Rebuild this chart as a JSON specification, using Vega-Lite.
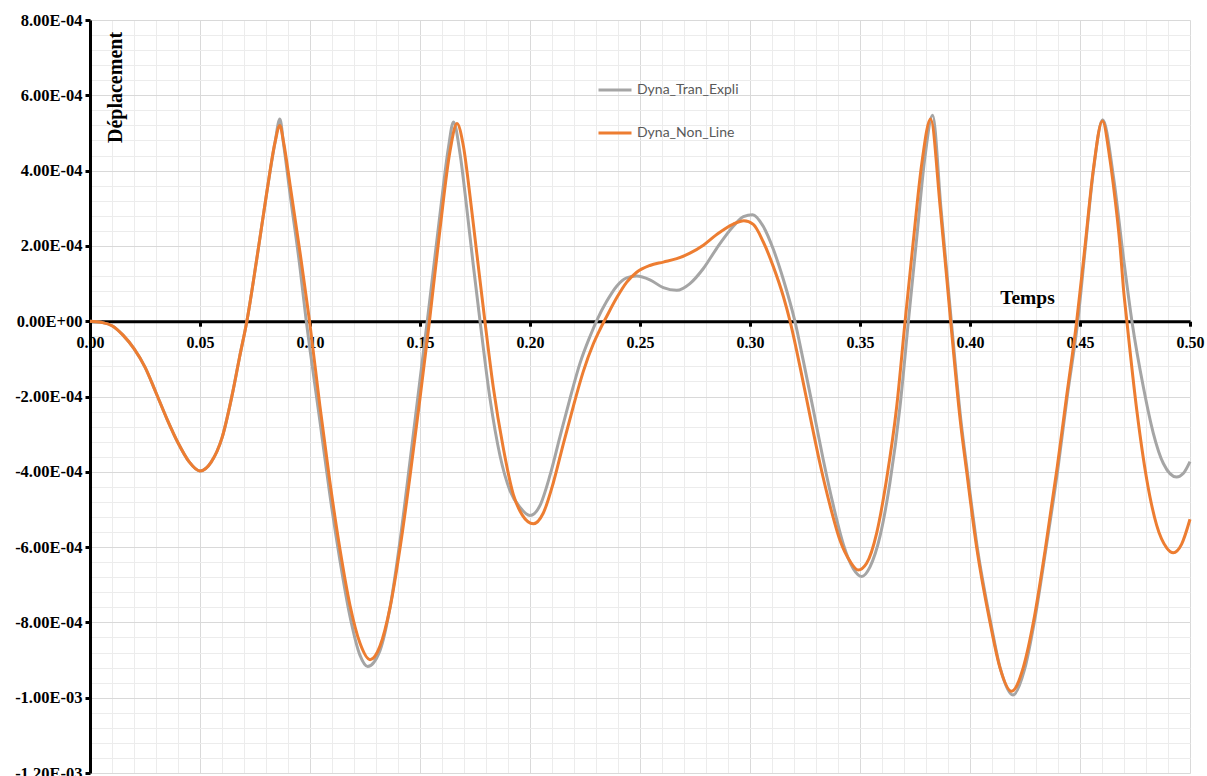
{
"$schema": "https://vega.github.io/schema/vega-lite/v6.json",
"width": 1100, "height": 753,
"autosize": {"type": "none"},
"padding": {"left": 90, "top": 20, "right": 17, "bottom": 3},
"background": "white",
"config": {"view": {"stroke": null}},
"datasets": {
"T": [
{"t":0,"v":0},{"t":0.005,"v":-0.03e-4},{"t":0.01,"v":-0.12e-4},{"t":0.015,"v":-0.37e-4},{"t":0.02,"v":-0.73e-4},{"t":0.025,"v":-1.22e-4},{"t":0.03,"v":-1.9e-4},{"t":0.035,"v":-2.6e-4},{"t":0.04,"v":-3.23e-4},{"t":0.045,"v":-3.73e-4},{"t":0.05,"v":-3.98e-4},{"t":0.055,"v":-3.75e-4},{"t":0.06,"v":-3.1e-4},{"t":0.065,"v":-1.85e-4},{"t":0.068,"v":-0.95e-4},{"t":0.0713,"v":0},{"t":0.0758,"v":1.65e-4},{"t":0.0803,"v":3.4e-4},{"t":0.0841,"v":4.75e-4},
{"t":0.0863,"v":5.37e-4},{"t":0.088,"v":4.7e-4},{"t":0.091,"v":3.35e-4},{"t":0.0955,"v":1.4e-4},{"t":0.0983,"v":0},{"t":0.1,"v":-0.75e-4},{"t":0.1045,"v":-2.65e-4},{"t":0.109,"v":-4.6e-4},{"t":0.1136,"v":-6.35e-4},{"t":0.1182,"v":-7.85e-4},{"t":0.1227,"v":-8.87e-4},{"t":0.1262,"v":-9.17e-4},{"t":0.1318,"v":-8.75e-4},{"t":0.1364,"v":-7.6e-4},{"t":0.141,"v":-5.8e-4},{"t":0.1455,"v":-3.7e-4},{"t":0.15,"v":-1.55e-4},{"t":0.1533,"v":0},{"t":0.1591,"v":2.85e-4},{"t":0.1629,"v":4.6e-4},{"t":0.1652,"v":5.29e-4},{"t":0.1682,"v":4.45e-4},{"t":0.1712,"v":3.03e-4},{"t":0.1742,"v":1.5e-4},{"t":0.1773,"v":0},{"t":0.1818,"v":-2.05e-4},{"t":0.1864,"v":-3.58e-4},{"t":0.1909,"v":-4.5e-4},{"t":0.1955,"v":-4.95e-4},{"t":0.2,"v":-5.16e-4},{"t":0.2045,"v":-4.9e-4},{"t":0.2091,"v":-4.09e-4},{"t":0.2136,"v":-3.07e-4},{"t":0.2182,"v":-2.05e-4},{"t":0.2227,"v":-1.12e-4},{"t":0.2273,"v":-0.4e-4},{"t":0.2306,"v":0.05e-4},{"t":0.2348,"v":0.52e-4},{"t":0.2394,"v":0.93e-4},{"t":0.2439,"v":1.15e-4},{"t":0.2485,"v":1.2e-4},{"t":0.2545,"v":1.1e-4},{"t":0.2606,"v":0.89e-4},{"t":0.2667,"v":0.82e-4},{"t":0.2727,"v":1.0e-4},{"t":0.2788,"v":1.4e-4},{"t":0.2848,"v":1.93e-4},{"t":0.2924,"v":2.52e-4},{"t":0.297,"v":2.78e-4},{"t":0.3012,"v":2.83e-4},{"t":0.306,"v":2.52e-4},{"t":0.3106,"v":1.91e-4},{"t":0.3152,"v":1.1e-4},{"t":0.3204,"v":0},{"t":0.3242,"v":-1.04e-4},{"t":0.3288,"v":-2.36e-4},{"t":0.3333,"v":-3.68e-4},{"t":0.3379,"v":-4.9e-4},{"t":0.3424,"v":-5.92e-4},{"t":0.347,"v":-6.58e-4},{"t":0.3508,"v":-6.78e-4},{"t":0.3545,"v":-6.53e-4},{"t":0.3591,"v":-5.71e-4},{"t":0.3636,"v":-4.29e-4},{"t":0.3682,"v":-2.26e-4},{"t":0.372,"v":0},{"t":0.3758,"v":2.22e-4},{"t":0.3795,"v":4.35e-4},{"t":0.383,"v":5.47e-4},{"t":0.3868,"v":3.0e-4},{"t":0.3915,"v":0},{"t":0.3958,"v":-2.6e-4},{"t":0.3988,"v":-4.0e-4},{"t":0.4033,"v":-6.0e-4},{"t":0.4094,"v":-8.0e-4},{"t":0.4139,"v":-9.25e-4},{"t":0.4195,"v":-9.93e-4},{"t":0.4248,"v":-9.25e-4},{"t":0.4292,"v":-8.0e-4},{"t":0.4345,"v":-6.05e-4},{"t":0.44,"v":-3.9e-4},{"t":0.4442,"v":-2.0e-4},{"t":0.449,"v":0},{"t":0.4525,"v":2.0e-4},{"t":0.4561,"v":4.0e-4},{"t":0.4603,"v":5.35e-4},{"t":0.4652,"v":3.84e-4},{"t":0.4697,"v":1.71e-4},{"t":0.4736,"v":0},{"t":0.4788,"v":-1.75e-4},{"t":0.4833,"v":-2.97e-4},{"t":0.4879,"v":-3.78e-4},{"t":0.4939,"v":-4.14e-4},{"t":0.497,"v":-4.04e-4},{"t":0.5,"v":-3.73e-4}
],
"N": [
{"t":0,"v":0},{"t":0.005,"v":-0.03e-4},{"t":0.01,"v":-0.12e-4},{"t":0.015,"v":-0.37e-4},{"t":0.02,"v":-0.73e-4},{"t":0.025,"v":-1.22e-4},{"t":0.03,"v":-1.9e-4},{"t":0.035,"v":-2.6e-4},{"t":0.04,"v":-3.23e-4},{"t":0.045,"v":-3.73e-4},{"t":0.05,"v":-3.98e-4},{"t":0.055,"v":-3.75e-4},{"t":0.06,"v":-3.1e-4},{"t":0.065,"v":-1.85e-4},{"t":0.068,"v":-0.95e-4},{"t":0.0713,"v":0},{"t":0.0758,"v":1.65e-4},{"t":0.0803,"v":3.4e-4},{"t":0.0841,"v":4.75e-4},
{"t":0.0863,"v":5.2e-4},{"t":0.088,"v":4.75e-4},{"t":0.091,"v":3.6e-4},{"t":0.0955,"v":1.81e-4},{"t":0.0998,"v":0},{"t":0.1045,"v":-2.25e-4},{"t":0.109,"v":-4.25e-4},{"t":0.1136,"v":-6.05e-4},{"t":0.1182,"v":-7.55e-4},{"t":0.1227,"v":-8.55e-4},{"t":0.1273,"v":-8.99e-4},{"t":0.1318,"v":-8.63e-4},{"t":0.1364,"v":-7.6e-4},{"t":0.141,"v":-6.0e-4},{"t":0.1455,"v":-4.1e-4},{"t":0.15,"v":-2.05e-4},{"t":0.1543,"v":0},{"t":0.1591,"v":2.45e-4},{"t":0.1636,"v":4.5e-4},{"t":0.1668,"v":5.25e-4},{"t":0.1697,"v":4.66e-4},{"t":0.1727,"v":3.34e-4},{"t":0.1758,"v":1.81e-4},{"t":0.1795,"v":0},{"t":0.1833,"v":-1.75e-4},{"t":0.1879,"v":-3.38e-4},{"t":0.1924,"v":-4.6e-4},{"t":0.1965,"v":-5.15e-4},{"t":0.2015,"v":-5.38e-4},{"t":0.206,"v":-5.1e-4},{"t":0.2106,"v":-4.29e-4},{"t":0.2151,"v":-3.27e-4},{"t":0.2197,"v":-2.26e-4},{"t":0.2242,"v":-1.34e-4},{"t":0.2288,"v":-0.6e-4},{"t":0.2318,"v":-0.22e-4},{"t":0.2348,"v":0.12e-4},{"t":0.2394,"v":0.62e-4},{"t":0.2439,"v":1.03e-4},{"t":0.2485,"v":1.3e-4},{"t":0.2545,"v":1.48e-4},{"t":0.2606,"v":1.57e-4},{"t":0.2667,"v":1.66e-4},{"t":0.2727,"v":1.81e-4},{"t":0.2788,"v":2.02e-4},{"t":0.2848,"v":2.3e-4},{"t":0.2924,"v":2.58e-4},{"t":0.2972,"v":2.67e-4},{"t":0.3015,"v":2.57e-4},{"t":0.306,"v":2.11e-4},{"t":0.3106,"v":1.45e-4},{"t":0.3152,"v":0.65e-4},{"t":0.3182,"v":0},{"t":0.3227,"v":-1.2e-4},{"t":0.3273,"v":-2.52e-4},{"t":0.3318,"v":-3.78e-4},{"t":0.3364,"v":-4.9e-4},{"t":0.3409,"v":-5.82e-4},{"t":0.3455,"v":-6.38e-4},{"t":0.3492,"v":-6.61e-4},{"t":0.353,"v":-6.43e-4},{"t":0.3576,"v":-5.62e-4},{"t":0.3621,"v":-4.19e-4},{"t":0.3667,"v":-2.26e-4},{"t":0.3705,"v":0},{"t":0.3742,"v":2.11e-4},{"t":0.378,"v":4.15e-4},{"t":0.3821,"v":5.37e-4},{"t":0.3865,"v":3.0e-4},{"t":0.3912,"v":0},{"t":0.3955,"v":-2.6e-4},{"t":0.3985,"v":-4.0e-4},{"t":0.403,"v":-6.0e-4},{"t":0.4091,"v":-8.0e-4},{"t":0.4136,"v":-9.2e-4},{"t":0.4189,"v":-9.83e-4},{"t":0.4242,"v":-9.2e-4},{"t":0.4288,"v":-8.0e-4},{"t":0.4341,"v":-6.1e-4},{"t":0.4397,"v":-3.85e-4},{"t":0.4439,"v":-2.0e-4},{"t":0.4485,"v":0},{"t":0.4523,"v":2.0e-4},{"t":0.456,"v":4.0e-4},{"t":0.4602,"v":5.32e-4},{"t":0.4636,"v":4.3e-4},{"t":0.4652,"v":3.6e-4},{"t":0.4682,"v":2.0e-4},{"t":0.4697,"v":0.9e-4},{"t":0.4713,"v":0},{"t":0.4758,"v":-2.36e-4},{"t":0.4803,"v":-4.19e-4},{"t":0.4848,"v":-5.41e-4},{"t":0.4894,"v":-6.02e-4},{"t":0.4924,"v":-6.15e-4},{"t":0.4962,"v":-5.92e-4},{"t":0.5,"v":-5.26e-4}
]
},
"layer": [
{
"data": {"name": "T"},
"transform": [{"calculate": "'Dyna_Tran_Expli'", "as": "s"}],
"mark": {"type": "line", "interpolate": "monotone", "strokeWidth": 3},
"encoding": {
"x": {"field": "t", "type": "quantitative", "scale": {"domain": [0, 0.5], "nice": false, "zero": false},
"axis": {"orient": "bottom", "values": [0,0.01,0.02,0.03,0.04,0.05,0.06,0.07,0.08,0.09,0.1,0.11,0.12,0.13,0.14,0.15,0.16,0.17,0.18,0.19,0.2,0.21,0.22,0.23,0.24,0.25,0.26,0.27,0.28,0.29,0.3,0.31,0.32,0.33,0.34,0.35,0.36,0.37,0.38,0.39,0.4,0.41,0.42,0.43,0.44,0.45,0.46,0.47,0.48,0.49,0.5], "grid": true, "gridColor": "#ececec", "gridWidth": 1, "domain": false, "ticks": false, "labels": false, "title": null}},
"y": {"field": "v", "type": "quantitative", "scale": {"domain": [-0.0012, 0.0008], "nice": false, "zero": false},
"axis": {"orient": "left", "values": [-0.0012,-0.00116,-0.00112,-0.00108,-0.00104,-0.001,-0.00096,-0.00092,-0.00088,-0.00084,-0.0008,-0.00076,-0.00072,-0.00068,-0.00064,-0.0006,-0.00056,-0.00052,-0.00048,-0.00044,-0.0004,-0.00036,-0.00032,-0.00028,-0.00024,-0.0002,-0.00016,-0.00012,-0.00008,-0.00004,0,0.00004,0.00008,0.00012,0.00016,0.0002,0.00024,0.00028,0.00032,0.00036,0.0004,0.00044,0.00048,0.00052,0.00056,0.0006,0.00064,0.00068,0.00072,0.00076,0.0008], "grid": true, "gridColor": "#ececec", "gridWidth": 1, "domain": false, "ticks": false, "labels": false, "title": null}},
"color": {"field": "s", "type": "nominal", "scale": {"domain": ["Dyna_Tran_Expli", "Dyna_Non_Line"], "range": ["#A5A5A5", "#ED7D31"]},
"legend": {"orient": "none", "legendX": 507, "legendY": 52, "direction": "vertical", "title": null, "symbolType": "stroke", "symbolSize": 1089, "symbolStrokeWidth": 3, "labelFont": "Lato", "labelFontSize": 14, "labelColor": "#595959", "labelOffset": 4, "rowPadding": 18, "padding": 0}}
}
},
{
"data": {"name": "N"},
"transform": [{"calculate": "'Dyna_Non_Line'", "as": "s"}],
"mark": {"type": "line", "interpolate": "monotone", "strokeWidth": 3},
"encoding": {
"x": {"field": "t", "type": "quantitative", "scale": {"domain": [0, 0.5], "nice": false, "zero": false},
"axis": {"orient": "bottom", "offset": -451.8, "values": [0,0.05,0.1,0.15,0.2,0.25,0.3,0.35,0.4,0.45,0.5], "format": ".2f", "grid": true, "gridColor": "#d9d9d9", "gridWidth": 1, "domain": true, "domainColor": "#000000", "domainWidth": 3, "ticks": true, "tickColor": "#000000", "tickWidth": 3, "tickSize": 5, "labelFont": "Liberation Serif", "labelFontWeight": "bold", "labelFontSize": 16, "labelColor": "#000000", "labelPadding": 8, "labelFlush": false, "labelOverlap": false, "labelBound": false, "title": "Temps", "titleFont": "Liberation Serif", "titleFontWeight": "bold", "titleFontSize": 19.5, "titleColor": "#000000", "titleX": 937, "titleY": -18, "titleAlign": "center", "titleBaseline": "alphabetic", "titleAngle": 0}},
"y": {"field": "v", "type": "quantitative", "scale": {"domain": [-0.0012, 0.0008], "nice": false, "zero": false},
"axis": {"orient": "left", "values": [-0.0012,-0.001,-0.0008,-0.0006,-0.0004,-0.0002,0,0.0002,0.0004,0.0006,0.0008], "labelExpr": "replace(replace(replace(format(datum.value, '.2e'), 'e-', 'E-0'), 'e+', 'E+0'), '\u2212', '-')", "grid": true, "gridColor": "#d9d9d9", "gridWidth": 1, "domain": true, "domainColor": "#000000", "domainWidth": 3, "ticks": true, "tickColor": "#000000", "tickWidth": 3, "tickSize": 5, "labelFont": "Liberation Serif", "labelFontWeight": "bold", "labelFontSize": 16.5, "labelColor": "#000000", "labelPadding": 3, "labelOverlap": false, "labelBound": false, "labelFlush": false, "title": "Déplacement", "titleFont": "Liberation Serif", "titleFontWeight": "bold", "titleFontSize": 20, "titleColor": "#000000", "titleX": 31, "titleY": 67, "titleAngle": -90, "titleAlign": "center", "titleBaseline": "alphabetic"}},
"color": {"field": "s", "type": "nominal", "scale": {"domain": ["Dyna_Tran_Expli", "Dyna_Non_Line"], "range": ["#A5A5A5", "#ED7D31"]},
"legend": {"orient": "none", "legendX": 507, "legendY": 52, "direction": "vertical", "title": null, "symbolType": "stroke", "symbolSize": 1089, "symbolStrokeWidth": 3, "labelFont": "Lato", "labelFontSize": 14, "labelColor": "#595959", "labelOffset": 4, "rowPadding": 18, "padding": 0}}
}
}
],
"resolve": {"axis": {"x": "independent", "y": "independent"}}
}
